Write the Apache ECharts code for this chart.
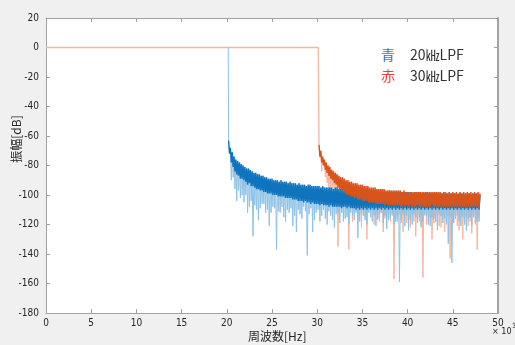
<!DOCTYPE html>
<html><head><meta charset="utf-8">
<script src="https://cdn.jsdelivr.net/npm/echarts@6/dist/echarts.min.js"></script>
<style>html,body{margin:0;padding:0;background:#f0f0f0}#c{width:515px;height:345px}</style>
</head><body><div id="c"></div><script>
// ---- data (frequency in kHz, level in dB) ----
const xTickLabels = ['0','5','10','15','20','25','30','35','40','45','50'];
const yTickLabels = ['20','0','-20','-40','-60','-80','-100','-120','-140','-160','-180'];

const bluePassFreq = [0, 20.16];
const bluePassDb   = [0, 0];
const redPassFreq  = [0, 30.12];
const redPassDb    = [0, 0];

const binStep = 0.1;           // FFT bin spacing (kHz)
const blueStart = 20.2;
const blueDb = [
 -63,-72,-68,-78,-71,-81,-74,-84,
 -76,-86,-77,-87,-78,-89,-79,-89,-80,-90,
 -81,-91,-82,-93,-82,-92,-83,-94,-84,-94,
 -85,-95,-85,-96,-86,-96,-86,-97,-87,-97,
 -87,-98,-88,-98,-88,-99,-89,-99,-89,-99,
 -89,-100,-90,-100,-90,-100,-90,-101,-91,-101,
 -90,-101,-91,-101,-91,-102,-91,-102,-92,-102,
 -91,-102,-92,-103,-92,-103,-92,-103,-93,-104,
 -92,-104,-93,-104,-93,-105,-93,-104,-94,-105,
 -93,-105,-93,-106,-94,-105,-94,-106,-94,-106,
 -94,-106,-94,-107,-95,-106,-94,-107,-95,-107,
 -95,-107,-95,-108,-95,-107,-95,-108,-96,-108,
 -95,-108,-95,-108,-96,-108,-96,-109,-96,-108,
 -96,-108,-96,-109,-96,-108,-96,-109,-97,-109,
 -96,-109,-96,-110,-97,-109,-97,-110,-97,-109,
 -97,-110,-96,-109,-97,-110,-97,-109,-97,-110,
 -97,-109,-97,-110,-97,-109,-97,-110,-98,-109,
 -97,-110,-97,-109,-98,-110,-98,-109,-98,-110,
 -97,-109,-98,-110,-98,-109,-98,-110,-98,-109,
 -98,-110,-98,-109,-98,-110,-98,-109,-98,-110,
 -98,-109,-98,-110,-98,-109,-99,-110,-98,-109,
 -98,-110,-99,-109,-98,-110,-99,-109,-99,-110,
 -98,-109,-99,-110,-99,-109,-99,-110,-99,-109,
 -99,-110,-99,-109,-99,-110,-99,-109,-99,-110,
 -99,-109,-99,-110,-99,-109,-99,-110,-99,-109,
 -99,-110,-99,-109,-99,-110,-100,-109,-99,-110,
 -99,-109,-100,-110,-99,-109,-100,-110,-99,-109,
 -100,-110,-99,-109,-100,-110,-99,-109,-100,-110,
 -100
];
// deep nulls (light spikes)
const blueNullFreq = [20.5,20.9,21.1,21.7,22.3,22.9,23.3,23.5,23.9,24.3,24.7,25.1,25.5,25.9,26.3,26.7,27.3,27.7,28.1,28.5,28.9,29.5,29.9,30.3,30.7,31.1,31.5,31.9,32.3,32.9,33.3,33.7,34.5,34.9,35.5,35.9,36.5,37.1,37.7,38.1,38.7,39.1,39.5,40.1,40.5,40.9,41.5,41.9,42.3,42.9,43.3,43.7,44.5,44.9,45.3,45.9,46.5,46.9,47.5,47.9];
const blueNullDb   = [-90,-96,-104,-100,-112,-128,-110,-117,-106,-112,-121,-108,-137,-112,-115,-110,-121,-125,-113,-108,-141,-125,-112,-118,-110,-120,-114,-122,-112,-118,-115,-112,-129,-113,-120,-115,-121,-112,-123,-115,-118,-159,-113,-124,-120,-115,-122,-113,-120,-116,-124,-114,-133,-146,-116,-121,-124,-115,-119,-118];
// shallower nulls (light texture under the band)
const blueDipFreq = [20.7,21.3,21.5,21.9,22.1,22.5,22.7,23.1,23.7,24.1,24.5,24.9,25.3,25.7,26.1,26.5,26.9,27.1,27.5,27.9,28.3,28.7,29.1,29.3,29.7,30.1,30.5,30.9,31.3,31.7,32.1,32.5,32.7,33.1,33.5,33.9,34.1,34.3,34.7,35.1,35.3,35.7,36.1,36.3,36.7,36.9,37.3,37.5,37.9,38.3,38.5,38.9,39.3,39.7,39.9,40.3,40.7,41.1,41.3,41.7,42.1,42.5,42.7,43.1,43.5,43.9,44.1,44.3,44.7,45.1,45.5,45.7,46.1,46.3,46.7,47.1,47.3,47.7];
const blueDipDb   = [-88,-97,-102,-105,-100,-108,-104,-107,-109,-106,-110,-112,-109,-111,-108,-118,-112,-109,-114,-110,-116,-111,-113,-109,-117,-110,-114,-116,-111,-117,-113,-119,-112,-116,-120,-114,-117,-112,-118,-114,-117,-112,-118,-114,-116,-113,-119,-114,-117,-113,-120,-115,-117,-121,-114,-117,-113,-119,-115,-118,-114,-121,-115,-118,-113,-119,-116,-120,-115,-119,-114,-118,-115,-120,-116,-121,-115,-118];

const redStart = 30.2;
const redDb = [
 -66,-74,-70,-78,-74,-80,-76,-83,
 -78,-85,-80,-87,-81,-89,-83,-90,-84,-92,
 -85,-93,-86,-95,-87,-96,-88,-97,-88,-98,
 -89,-99,-90,-100,-90,-100,-91,-101,-91,-101,
 -92,-102,-92,-102,-92,-103,-93,-103,-93,-103,
 -93,-104,-94,-104,-94,-104,-94,-105,-95,-105,
 -95,-105,-95,-105,-95,-106,-96,-106,-96,-106,
 -96,-106,-96,-106,-96,-107,-97,-106,-97,-107,
 -97,-107,-97,-107,-97,-107,-97,-107,-97,-107,
 -97,-107,-97,-108,-98,-107,-97,-108,-98,-107,
 -98,-108,-98,-107,-98,-108,-98,-108,-98,-108,
 -98,-107,-98,-108,-98,-108,-98,-108,-98,-108,
 -98,-108,-98,-108,-98,-108,-98,-107,-98,-108,
 -98,-108,-98,-108,-98,-108,-98,-108,-99,-108,
 -98,-108,-98,-108,-99,-108,-98,-108,-99,-108,
 -98,-108,-99,-108,-98,-108,-99,-108,-98,-108,
 -99,-108,-98,-108,-99,-108,-98,-108,-99,-108,
 -98,-108,-99,-108,-98,-108,-99,-108,-98,-109,
 -99
];
const redNullFreq = [31.3,31.9,32.3,32.9,33.5,33.9,34.5,34.9,35.5,35.9,36.3,36.9,37.3,37.9,38.5,38.9,39.5,39.9,40.3,40.9,41.3,41.7,42.1,42.7,43.1,43.7,44.1,44.7,45.1,45.7,46.1,46.7,47.1,47.7];
const redNullDb   = [-100,-108,-135,-112,-137,-118,-115,-122,-130,-114,-120,-118,-125,-116,-157,-118,-125,-119,-122,-128,-118,-156,-120,-130,-118,-122,-125,-143,-118,-124,-130,-121,-126,-137];
const redDipFreq = [30.5,30.9,31.1,31.5,31.7,32.1,32.5,32.7,33.1,33.3,33.7,34.1,34.3,34.7,35.1,35.3,35.7,36.1,36.5,36.7,37.1,37.5,37.7,38.1,38.3,38.7,39.1,39.3,39.7,40.1,40.5,40.7,41.1,41.5,41.9,42.3,42.5,42.9,43.3,43.5,43.9,44.3,44.5,44.9,45.3,45.5,45.9,46.3,46.5,46.9,47.3,47.5,47.9];
const redDipDb   = [-84,-88,-92,-97,-95,-100,-104,-101,-106,-110,-108,-112,-109,-113,-111,-115,-112,-116,-113,-117,-112,-116,-113,-118,-114,-116,-113,-119,-114,-117,-113,-118,-115,-120,-114,-118,-115,-119,-114,-121,-115,-118,-114,-120,-116,-121,-115,-119,-114,-118,-115,-120,-116];

// ---- build tables ----
const pts = (f, d) => f.map((x, i) => [x, d[i]]);
function grid(start, db) { return db.map((v, i) => [+(start + i * binStep).toFixed(2), v]); }
function withNulls(start, db, lists) {
  const d = db.slice();
  lists.forEach(([nf, nd]) => nf.forEach((f, k) => { d[Math.round((f - start) / binStep)] = nd[k]; }));
  return grid(start, d);
}
const ser = (data, color, z, w) => ({
  type: 'line', data, z, symbol: 'none', showSymbol: false, silent: true,
  sampling: null, lineStyle: { color, width: w }, clip: true
});
const blueLast = bluePassFreq.length - 1;

const chart = echarts.init(document.getElementById('c'), null, { renderer: 'canvas' });
const axisCol = '#a3a3a3';
const numFont = "'DejaVu Sans Condensed','Liberation Sans Narrow',sans-serif";
const cjk = "'Noto Sans CJK JP',sans-serif";
const xAx = (pos, lab) => ({ type: 'value', min: 0, max: 50, interval: 5, position: pos,
  axisLine: { onZero: false, lineStyle: { color: axisCol } },
  axisTick: { inside: true, length: 4, lineStyle: { color: axisCol } },
  axisLabel: lab ? { color: '#262626', fontSize: 10, fontFamily: numFont, margin: 5,
      formatter: (v) => xTickLabels[Math.round(v / 5)] } : { show: false },
  splitLine: { show: false } });
const yAx = (pos, lab, w) => ({ type: 'value', min: -180, max: 20, interval: 20, position: pos,
  axisLine: { show: true, onZero: false, lineStyle: { color: axisCol, width: w } },
  axisTick: { show: true, inside: true, length: 4, lineStyle: { color: axisCol } },
  axisLabel: lab ? { color: '#262626', fontSize: 10, fontFamily: numFont, margin: 7,
      formatter: (v) => yTickLabels[Math.round((20 - v) / 20)] } : { show: false },
  splitLine: { show: false } });
chart.setOption({
  animation: false,
  backgroundColor: '#f0f0f0',
  grid: { left: 46, right: 17, top: 18, bottom: 32, show: true, backgroundColor: '#ffffff', borderWidth: 0 },
  xAxis: [xAx('bottom', true), xAx('top', false)],
  yAxis: [yAx('left', true, 1), yAx('right', false, 2)],
  series: [
    ser(pts(bluePassFreq, bluePassDb), '#8ec2e6', 1, 1),
    ser(withNulls(redStart, redDb, [[redNullFreq, redNullDb], [redDipFreq, redDipDb]]), '#f4b69e', 2, 1),
    ser(pts(redPassFreq, redPassDb).concat([[redStart, redDb[0]]]), '#f4b69e', 3, 1.3),
    ser([[bluePassFreq[blueLast], bluePassDb[blueLast]]].concat(withNulls(blueStart, blueDb, [[blueNullFreq, blueNullDb], [blueDipFreq, blueDipDb]])), '#8ec2e6', 4, 1),
    ser(grid(blueStart, blueDb), '#0f74be', 5, 1.4),
    ser(grid(redStart, redDb), '#d9541a', 6, 1.4)
  ],
  graphic: [
    { type: 'text', left: 248, top: 330, style: { text: '周波数[Hz]', fontSize: 12, fill: '#262626', fontFamily: cjk } },
    { type: 'text', x: 16, y: 139, rotation: Math.PI / 2, style: { text: '振幅[dB]', fontSize: 12, fill: '#262626', align: 'center', verticalAlign: 'middle', fontFamily: cjk } },
    { type: 'text', left: 492, top: 327, style: { text: '× 10', fontSize: 9, fill: '#262626', fontFamily: numFont } },
    { type: 'text', left: 512, top: 323, style: { text: '3', fontSize: 7, fill: '#262626', fontFamily: numFont } },
    { type: 'text', left: 381, top: 48, style: { text: '青', fontSize: 14, fill: '#2f73cf', fontFamily: cjk } },
    { type: 'text', left: 410, top: 48, style: { text: '20㎑LPF', fontSize: 14, fill: '#333333', fontFamily: cjk } },
    { type: 'text', left: 381, top: 69, style: { text: '赤', fontSize: 14, fill: '#ee3b33', fontFamily: cjk } },
    { type: 'text', left: 410, top: 69, style: { text: '30㎑LPF', fontSize: 14, fill: '#333333', fontFamily: cjk } }
  ]
});
</script></body></html>
